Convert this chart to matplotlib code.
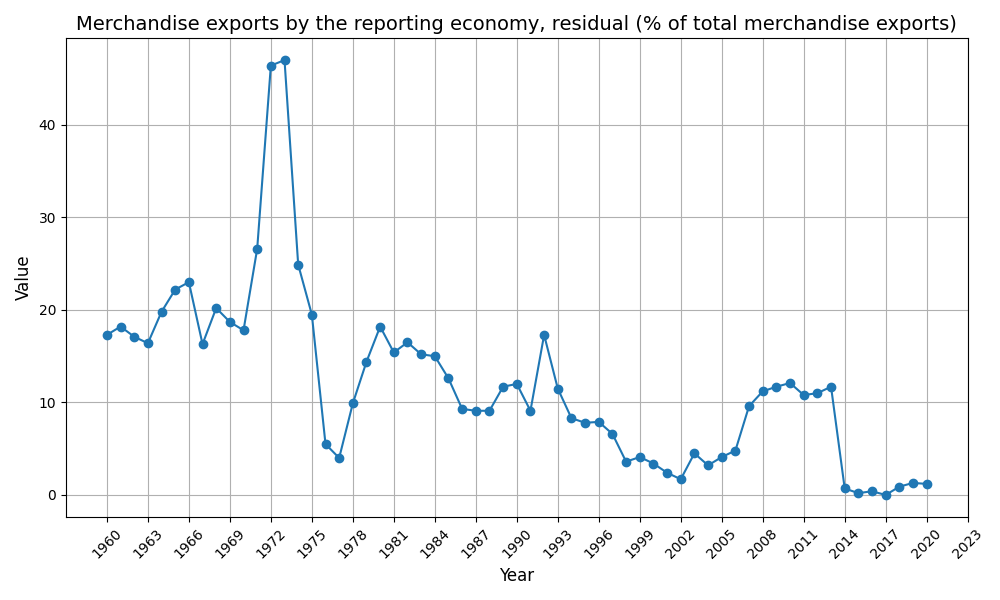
import matplotlib
matplotlib.use("Agg")
import matplotlib.pyplot as plt

years = list(range(1960, 2021))
values = [17.3, 18.2, 17.1, 16.4, 19.8, 22.2, 23.0, 16.3, 20.2, 18.7,
          17.8, 26.6, 46.4, 47.0, 24.9, 19.5, 5.5, 4.0, 9.9, 14.4,
          18.2, 15.4, 16.5, 15.2, 15.0, 12.6, 9.3, 9.1, 9.1, 11.7,
          12.0, 9.1, 17.3, 11.5, 8.3, 7.8, 7.9, 6.6, 3.6, 4.1,
          3.4, 2.4, 1.7, 4.5, 3.2, 4.1, 4.8, 9.6, 11.2, 11.7,
          12.1, 10.8, 11.0, 11.7, 0.7, 0.2, 0.4, 0.0, 0.9, 1.3, 1.2]
xticks = list(range(1960, 2024, 3))

fig, ax = plt.subplots(figsize=(10, 6), dpi=100)
ax.plot(years, values, marker='o', color='#1f77b4')
ax.set_title("Merchandise exports by the reporting economy, residual (% of total merchandise exports)", fontsize=14)
ax.set_xlabel("Year", fontsize=12)
ax.set_ylabel("Value", fontsize=12)
ax.set_xticks(xticks)
ax.tick_params(axis='x', rotation=45)
ax.grid(True)
fig.tight_layout()
fig.savefig("out.png")
